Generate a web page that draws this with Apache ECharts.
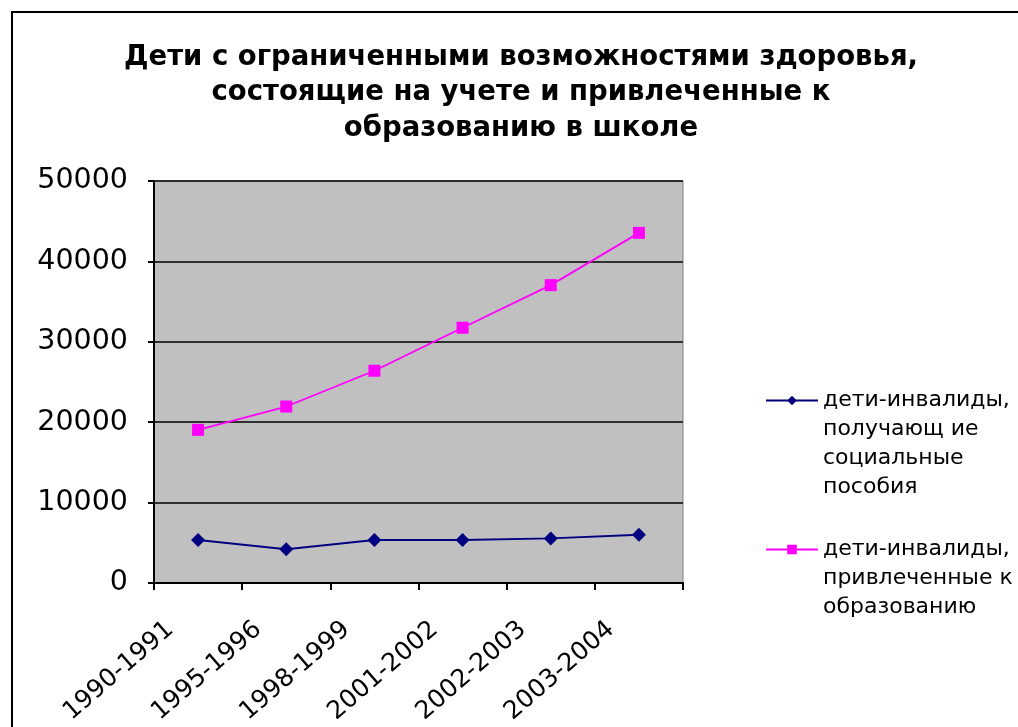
<!DOCTYPE html>
<html>
<head>
<meta charset="utf-8">
<script src="https://cdn.jsdelivr.net/npm/echarts@6/dist/echarts.min.js"></script>
<style>
  html, body { margin: 0; padding: 0; background: #fff; }
  #chart { width: 1018px; height: 727px; }
</style>
</head>
<body>
<div id="chart"></div>
<script>
var years = ['1990-1991', '1995-1996', '1998-1999', '2001-2002', '2002-2003', '2003-2004'];
var benefitKids = [5350, 4200, 5350, 5350, 5550, 6000];
var schoolKids = [19050, 21950, 26400, 31750, 37050, 43550];
var yTicks = [0, 10000, 20000, 30000, 40000, 50000];

var name1 = 'дети-инвалиды, получающие социальные пособия';
var name2 = 'дети-инвалиды, привлеченные к образованию';
// leading blank lines keep the marker level with the first text line
var label1 = '\n\n\nдети-инвалиды,\nполучающ ие\nсоциальные\nпособия';
var label2 = '\n\nдети-инвалиды,\nпривлеченные к\nобразованию';

var font = 'DejaVu Sans, Liberation Sans, Arial, sans-serif';

var chart = echarts.init(document.getElementById('chart'));

var legendText = {
  fontFamily: font,
  fontSize: 22,
  lineHeight: 29,
  color: '#000'
};

var option = {
  animation: false,
  textStyle: { fontFamily: font },
  title: {
    text: 'Дети с ограниченными возможностями здоровья,\nсостоящие на учете и привлеченные к\nобразованию в школе',
    left: 521,
    textAlign: 'center',
    top: 40,
    padding: 0,
    textStyle: {
      fontFamily: font,
      fontWeight: 'bold',
      fontSize: 27.5,
      lineHeight: 35.5,
      color: '#000'
    }
  },
  graphic: [{
    type: 'rect',
    shape: { x: 12, y: 12, width: 1100, height: 800 },
    style: { fill: 'none', stroke: '#000', lineWidth: 2 },
    silent: true
  }],
  legend: [{
    orient: 'vertical',
    left: 765,
    top: 299,
    padding: 0,
    itemWidth: 52,
    itemHeight: 12,
    data: [{ name: name1 }],
    formatter: function () { return label1; },
    textStyle: legendText
  }, {
    orient: 'vertical',
    left: 765,
    top: 477,
    padding: 0,
    itemWidth: 52,
    itemHeight: 12,
    data: [{ name: name2 }],
    formatter: function () { return label2; },
    textStyle: legendText
  }],
  grid: {
    left: 154,
    right: 335,
    top: 181,
    bottom: 144,
    outerBoundsMode: 'none',
    containLabel: false,
    show: true,
    backgroundColor: '#C0C0C0',
    borderColor: '#808080',
    borderWidth: 1
  },
  xAxis: {
    type: 'category',
    data: years,
    boundaryGap: true,
    axisLine: { lineStyle: { color: '#000', width: 2 } },
    axisTick: { show: true, alignWithLabel: false, length: 7, lineStyle: { color: '#000', width: 2 } },
    axisLabel: {
      rotate: 41,
      fontSize: 25,
      color: '#000',
      margin: 19,
      padding: [0, 37, 0, 0],
      interval: 0
    }
  },
  yAxis: {
    type: 'value',
    min: 0,
    max: 50000,
    interval: 10000,
    axisLine: { show: true, lineStyle: { color: '#000', width: 2 } },
    axisTick: { show: true, inside: false, length: 6, lineStyle: { color: '#000', width: 2 } },
    axisLabel: {
      fontSize: 28.5,
      color: '#000',
      margin: 26,
      formatter: function (v) { return yTicks.indexOf(v) >= 0 ? String(v) : ''; }
    },
    splitLine: { show: true, lineStyle: { color: '#000', width: 1.5 } }
  },
  series: [{
    name: name1,
    type: 'line',
    data: benefitKids,
    symbol: 'diamond',
    symbolSize: 14,
    itemStyle: { color: '#000080' },
    lineStyle: { color: '#000080', width: 1.8 }
  }, {
    name: name2,
    type: 'line',
    data: schoolKids,
    symbol: 'rect',
    symbolSize: 12,
    itemStyle: { color: '#FF00FF' },
    lineStyle: { color: '#FF00FF', width: 1.8 }
  }]
};

chart.setOption(option);
</script>
</body>
</html>
